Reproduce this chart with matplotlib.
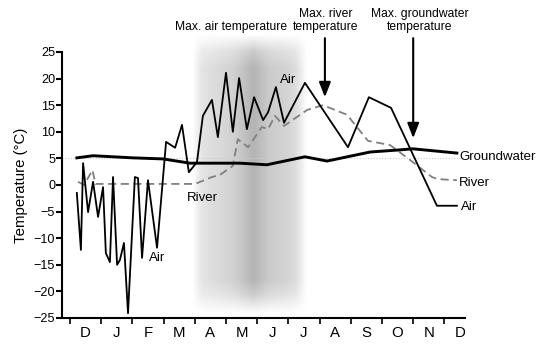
import numpy as np
import matplotlib
matplotlib.use("Agg")
import matplotlib.pyplot as plt
from matplotlib import font_manager

# font: narrow helvetica look if there is one
names = {f.name for f in font_manager.fontManager.ttflist}
if "Liberation Sans Narrow" in names:
    plt.rcParams["font.family"] = ["Liberation Sans Narrow", "DejaVu Sans"]
    fs = 1.0
else:
    plt.rcParams["font.family"] = ["Liberation Sans", "DejaVu Sans"]
    fs = 0.83

# data, x in months from start of December
months = ["D", "J", "F", "M", "A", "M", "J", "J", "A", "S", "O", "N", "D"]

air_x = [0.22, 0.35, 0.42, 0.58, 0.74, 0.90, 1.06, 1.15, 1.28, 1.38, 1.51, 1.60,
         1.73, 1.86, 2.08, 2.18, 2.31, 2.50, 2.79, 3.08, 3.37, 3.59, 3.81, 4.07,
         4.26, 4.55, 4.74, 5.00, 5.22, 5.42, 5.67, 5.90, 6.19, 6.35, 6.60, 6.86,
         7.53, 8.91, 9.58, 10.29, 11.76, 12.40]
air_t = [-1.5, -12.2, 4.1, -5.1, 0.6, -6.0, -0.4, -12.8, -14.5, 1.5, -15.0, -14.1,
         -10.9, -24.1, 1.5, 1.3, -13.7, 0.9, -11.8, 8.1, 7.0, 11.3, 2.4, 4.3,
         13.0, 16.0, 9.0, 21.1, 10.0, 20.1, 10.5, 16.5, 12.2, 13.7, 18.4, 11.7,
         19.2, 7.1, 16.5, 14.5, -3.9, -3.9]

river_x = [0.26, 0.45, 0.72, 0.82, 1.0, 2.0, 3.0, 4.01, 4.55, 4.81, 5.22, 5.38,
           5.71, 6.15, 6.35, 6.57, 6.86, 7.60, 8.11, 8.88, 9.55, 10.26, 10.90,
           11.60, 11.79, 12.40]
river_t = [0.6, 0.0, 2.8, 0.2, 0.2, 0.2, 0.2, 0.2, 1.5, 1.9, 3.6, 8.6,
           7.1, 10.9, 10.5, 13.0, 11.1, 14.1, 15.0, 13.2, 8.3, 7.5, 4.7,
           1.5, 1.1, 0.9]

gw_x = [0.22, 0.74, 2.02, 2.98, 3.85, 5.45, 6.31, 7.53, 8.24, 9.62, 10.58, 10.99, 12.40]
gw_t = [5.1, 5.5, 5.1, 4.9, 4.1, 4.1, 3.8, 5.3, 4.5, 6.2, 6.6, 6.8, 6.0]

fig = plt.figure(figsize=(5.39, 3.45), dpi=100)
ax = fig.add_axes([0.115, 0.0783, 0.7477, 0.771])

# shaded band for max. air temperature period (soft grey gradient)
bx = np.linspace(0, 1, 400)
by = np.linspace(0, 1, 300)
prof = np.interp(bx, [0, 0.03, 0.08, 0.2, 0.35, 0.45, 0.53, 0.6, 0.68, 0.8, 0.9, 0.96, 1.0],
                 [0.0, 0.05, 0.11, 0.14, 0.18, 0.24, 0.3, 0.25, 0.2, 0.18, 0.14, 0.06, 0.0])
k = np.ones(21) / 21
prof = np.convolve(prof, k, mode="same")
env = np.interp(by, [0, 0.07, 0.12, 0.88, 0.94, 1.0], [0, 0.7, 1, 1, 0.7, 0])
img = 1 - np.outer(env, prof)
ax.imshow(img, cmap="gray", vmin=0, vmax=1, extent=[3.95, 7.6, -24.2, 28.4],
          origin="lower", aspect="auto", interpolation="bilinear", zorder=0,
          clip_on=False)

ax.axhline(5, color="#cccccc", lw=0.8, ls=(0, (1, 1.5)), zorder=1)
ax.plot(river_x, river_t, color="#808080", lw=1.3, ls=(0, (4.5, 2.5)), zorder=2)
ax.plot(air_x, air_t, color="black", lw=1.3, zorder=3)
ax.plot(gw_x, gw_t, color="black", lw=2.1, zorder=4)

ax.set_xlim(-0.256, 12.66)
ax.set_ylim(-25, 25)

for s in ["top", "right"]:
    ax.spines[s].set_visible(False)
ax.spines["left"].set_linewidth(1.5)
ax.spines["bottom"].set_linewidth(1.5)

ax.set_yticks(range(-25, 26, 5))
ax.tick_params(axis="y", length=4, width=1.5, pad=1, labelsize=11 * fs)
ax.set_xticks(range(13))
ax.set_xticklabels([])
ax.set_xticks(np.arange(13) + 0.5, minor=True)
ax.set_xticklabels(months, minor=True)
ax.tick_params(axis="x", which="major", length=4, width=1.2)
ax.tick_params(axis="x", which="minor", length=0, pad=6, labelsize=13 * fs)
ax.set_ylabel("Temperature (°C)", fontsize=13 * fs, labelpad=4)

# line labels
lab = dict(fontsize=11.5 * fs, va="center", clip_on=False)
ax.text(12.47, 5.3, "Groundwater", ha="left", **lab)
ax.text(12.47, 0.4, "River", ha="left", **lab)
ax.text(12.53, -4.1, "Air", ha="left", **lab)
ax.text(6.99, 19.7, "Air", ha="center", **lab)
ax.text(4.23, -2.4, "River", ha="center", **lab)
ax.text(2.79, -13.7, "Air", ha="center", **lab)

# annotations
ann = dict(ha="center", va="center", fontsize=10.5 * fs, linespacing=1.05, clip_on=False)
ax.text(5.16, 29.7, "Max. air temperature", **ann)
ax.text(8.2, 30.9, "Max. river\ntemperature", **ann)
ax.text(11.22, 30.9, "Max. groundwater\ntemperature", **ann)
arw = dict(arrowstyle="-|>,head_length=0.9,head_width=0.35", color="black", lw=1.5,
           shrinkA=0, shrinkB=0)
ax.annotate("", xy=(8.17, 16.5), xytext=(8.17, 27.6), arrowprops=arw,
            annotation_clip=False)
ax.annotate("", xy=(11.0, 8.8), xytext=(11.0, 27.6), arrowprops=arw,
            annotation_clip=False)

fig.savefig("out.png", dpi=100)
